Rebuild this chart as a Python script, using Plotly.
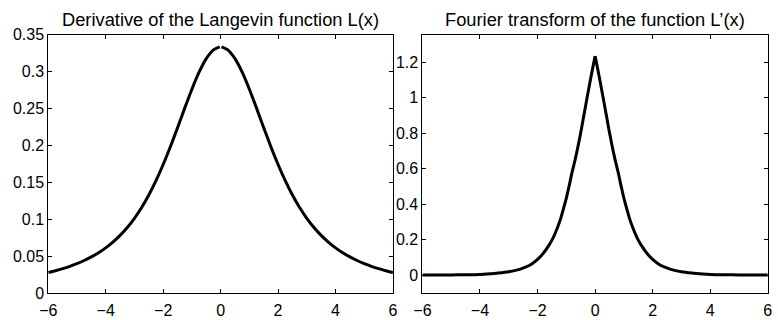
import plotly.graph_objects as go

# Left panel: derivative of the Langevin function L'(x) (gap at x = 0)
x_left = [-6, -5.75, -5.5, -5.25, -5, -4.75, -4.5, -4.25, -4, -3.75, -3.5, -3.25, -3,
          -2.75, -2.5, -2.25, -2, -1.75, -1.5, -1.25, -1, -0.75, -0.5, -0.25, -0.03,
          0, 0.03, 0.25, 0.5, 0.75, 1, 1.25, 1.5, 1.75, 2, 2.25, 2.5, 2.75, 3,
          3.25, 3.5, 3.75, 4, 4.25, 4.5, 4.75, 5, 5.25, 5.5, 5.75, 6]
y_left = [0.02775, 0.03021, 0.03299, 0.03617, 0.03982, 0.04402, 0.04889, 0.05455, 0.06116,
          0.06890, 0.07798, 0.08864, 0.10115, 0.11575, 0.13268, 0.15209, 0.17398, 0.19810,
          0.22388, 0.25031, 0.27594, 0.29894, 0.31730, 0.32921, 0.33327,
          None, 0.33327, 0.32921, 0.31730, 0.29894, 0.27594, 0.25031, 0.22388, 0.19810,
          0.17398, 0.15209, 0.13268, 0.11575, 0.10115, 0.08864, 0.07798, 0.06890, 0.06116,
          0.05455, 0.04889, 0.04402, 0.03982, 0.03617, 0.03299, 0.03021, 0.02775]

# Right panel: Fourier transform of L'(x)
x_right = [-6, -5.5, -5, -4.5, -4, -3.5, -3.25, -3, -2.8, -2.6, -2.4, -2.2, -2, -1.8, -1.6,
           -1.5, -1.4, -1.3, -1.2, -1.1, -1, -0.9, -0.8, -0.7, -0.6, -0.5, -0.4, -0.3,
           -0.2, -0.1, 0, 0.1, 0.2, 0.3, 0.4, 0.5, 0.6, 0.7, 0.8, 0.9, 1, 1.1, 1.2, 1.3,
           1.4, 1.5, 1.6, 1.8, 2, 2.2, 2.4, 2.6, 2.8, 3, 3.25, 3.5, 4, 4.5, 5, 5.5, 6]
y_right = [0.001, 0.001, 0.002, 0.003, 0.005, 0.010, 0.014, 0.020, 0.026, 0.035, 0.047,
           0.064, 0.089, 0.124, 0.170, 0.198, 0.232, 0.272, 0.318, 0.375, 0.435, 0.505,
           0.581, 0.648, 0.722, 0.804, 0.893, 0.982, 1.070, 1.155, 1.235, 1.155, 1.070,
           0.982, 0.893, 0.804, 0.722, 0.648, 0.581, 0.505, 0.435, 0.375, 0.318, 0.272,
           0.232, 0.198, 0.170, 0.124, 0.089, 0.064, 0.047, 0.035, 0.026, 0.020, 0.014,
           0.010, 0.005, 0.003, 0.002, 0.001, 0.001]

x_ticks = [-6, -4, -2, 0, 2, 4, 6]
y_ticks_left = [0, 0.05, 0.1, 0.15, 0.2, 0.25, 0.3, 0.35]
y_ticks_right = [0, 0.2, 0.4, 0.6, 0.8, 1, 1.2]

titles = ["Derivative of the Langevin function L(x)",
          "Fourier transform of the function L\u2019(x)"]

FONT = "Liberation Sans, Arial, Helvetica, sans-serif"
W, H = 778, 320
LINE = dict(color="black", width=3, shape="spline", smoothing=0.8)

# split the right curve at its cusp (x = 0) so the peak stays sharp
i0 = x_right.index(0)

fig = go.Figure()
fig.add_trace(go.Scatter(x=x_left, y=y_left, mode="lines", xaxis="x", yaxis="y",
                         line=LINE, connectgaps=False, showlegend=False, hoverinfo="skip"))
fig.add_trace(go.Scatter(x=x_right[:i0 + 1], y=y_right[:i0 + 1], mode="lines",
                         xaxis="x2", yaxis="y2", line=LINE, showlegend=False, hoverinfo="skip"))
fig.add_trace(go.Scatter(x=x_right[i0:], y=y_right[i0:], mode="lines",
                         xaxis="x2", yaxis="y2", line=LINE, showlegend=False, hoverinfo="skip"))

ax_common = dict(showline=True, linecolor="black", linewidth=1, mirror="ticks",
                 ticks="inside", ticklen=4, tickwidth=1, tickcolor="black",
                 showgrid=False, zeroline=False,
                 tickfont=dict(family=FONT, size=16, color="black"))

xl0, xl1 = 40 / W, 391 / W
xr0, xr1 = 421 / W, 772.7 / W
yb, yt = 1 - 301 / H, 1 - 28 / H

fig.update_layout(
    width=W, height=H, margin=dict(l=0, r=0, t=0, b=0),
    paper_bgcolor="white", plot_bgcolor="white",
    xaxis=dict(domain=[xl0, xl1], range=[-6, 6], tickvals=x_ticks, anchor="y",
               ticklabelstandoff=3, **ax_common),
    yaxis=dict(domain=[yb, yt], range=[0, 0.35], tickvals=y_ticks_left, anchor="x", **ax_common),
    xaxis2=dict(domain=[xr0, xr1], range=[-6, 6], tickvals=x_ticks, anchor="y2",
                ticklabelstandoff=3, **ax_common),
    yaxis2=dict(domain=[yb, yt], range=[-0.1, 1.357], tickvals=y_ticks_right, anchor="x2", **ax_common),
    annotations=[
        dict(text=titles[0], x=(xl0 + xl1) / 2, y=1 - 21 / H, xref="paper", yref="paper",
             xanchor="center", yanchor="bottom", showarrow=False, yshift=-4,
             font=dict(family=FONT, size=18.3, color="black")),
        dict(text=titles[1], x=(xr0 + xr1) / 2, y=1 - 21 / H, xref="paper", yref="paper",
             xanchor="center", yanchor="bottom", showarrow=False, yshift=-4,
             font=dict(family=FONT, size=18.3, color="black")),
    ],
)

fig.write_html("out.html")
